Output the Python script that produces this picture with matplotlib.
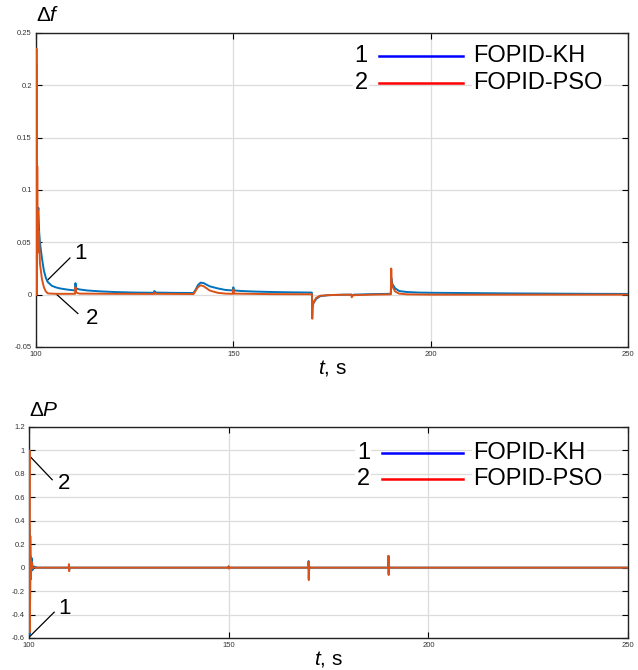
import matplotlib
matplotlib.use("Agg")
from matplotlib import pyplot as plt

plt.rcParams['font.family'] = ['Liberation Sans', 'DejaVu Sans']
plt.rcParams['mathtext.fontset'] = 'custom'
plt.rcParams['mathtext.rm'] = 'Liberation Sans'
plt.rcParams['mathtext.it'] = 'Liberation Sans:italic'

# --- delta f, FOPID-KH (curve 1)
t_f_kh = [100.0, 100.1, 100.2, 100.35, 100.6, 100.8, 101.0, 101.5, 102.0, 102.5, 103.0,
          104.0, 105.0, 106.0, 108.0, 109.9, 110.0, 110.15, 111.0, 113.0, 116.0, 120.0,
          125.0, 129.9, 130.0, 130.3, 135.0, 139.9, 140.5, 141.0, 141.7, 142.5, 144.0,
          146.0, 148.0, 149.9, 150.0, 150.2, 152.0, 155.0, 160.0, 165.0, 169.9, 170.0,
          170.3, 171.0, 172.0, 174.0, 178.0, 179.9, 180.0, 180.5, 185.0, 189.9, 190.0,
          190.3, 191.0, 192.0, 194.0, 197.0, 200.0, 210.0, 220.0, 230.0, 240.0, 250.0]
f_kh = [0.0, 0.22, 0.02, 0.07, 0.083, 0.06, 0.05, 0.035, 0.023, 0.016, 0.012,
        0.0085, 0.007, 0.006, 0.0048, 0.004, 0.011, 0.006, 0.005, 0.004, 0.0032, 0.0025,
        0.002, 0.0018, 0.0035, 0.002, 0.0017, 0.0016, 0.005, 0.009, 0.0115, 0.011, 0.008,
        0.006, 0.0045, 0.004, 0.007, 0.004, 0.0035, 0.003, 0.0025, 0.0022, 0.002, -0.012,
        -0.008, -0.004, -0.0015, -0.0005, 0.0, 0.0, -0.001, 0.0, 0.0005, 0.0008, 0.016,
        0.01, 0.006, 0.0035, 0.0025, 0.002, 0.0018, 0.0015, 0.0012, 0.001, 0.0008, 0.0007]

# --- delta f, FOPID-PSO (curve 2)
t_f_pso = [100.0, 100.12, 100.22, 100.32, 100.42, 100.5, 100.6, 100.75, 101.0, 101.5, 102.0,
           102.5, 103.0, 105.0, 109.9, 110.0, 110.2, 111.0, 120.0, 129.9, 130.0, 130.3,
           139.9, 140.5, 141.0, 141.7, 142.5, 144.0, 146.0, 148.0, 149.9, 150.0, 150.2,
           160.0, 169.9, 170.0, 170.15, 170.5, 171.0, 172.0, 175.0, 179.9, 180.0, 180.3,
           185.0, 189.9, 190.0, 190.1, 190.4, 191.0, 192.0, 194.0, 200.0, 250.0]
f_pso = [0.0, 0.235, 0.0, 0.123, 0.04, 0.08, 0.05, 0.06, 0.03, 0.015, 0.007,
         0.003, 0.0012, 0.0008, 0.0008, 0.007, 0.002, 0.001, 0.0008, 0.0007, 0.002, 0.0008,
         0.0006, 0.004, 0.007, 0.009, 0.008, 0.004, 0.0018, 0.001, 0.0008, 0.005, 0.001,
         0.0005, 0.0004, -0.023, -0.01, -0.006, -0.003, -0.001, -0.0003, 0.0, -0.0025, -0.0005,
         0.0, 0.0003, 0.025, 0.012, 0.007, 0.003, 0.001, 0.0003, 0.0, 0.0]

# --- delta P, FOPID-KH (curve 1)
t_p_kh = [100.0, 100.1, 100.2, 100.35, 100.5, 100.7, 100.9, 101.2, 102.0, 109.95, 110.0,
          110.05, 110.1, 149.95, 150.0, 150.05, 150.1, 169.95, 170.0, 170.05, 170.15, 170.3,
          189.95, 190.0, 190.05, 190.15, 190.3, 250.0]
p_kh = [0.0, 0.32, -0.57, 0.1, -0.05, 0.08, -0.02, 0.01, 0.0, 0.0, 0.02,
        -0.02, 0.0, 0.0, 0.01, -0.005, 0.0, 0.0, 0.056, -0.09, 0.01, 0.0,
        0.0, 0.1, -0.05, 0.01, 0.0, 0.0]

# --- delta P, FOPID-PSO (curve 2)
t_p_pso = [100.0, 100.12, 100.22, 100.32, 100.45, 100.6, 100.8, 102.0, 109.95, 110.0,
           110.05, 110.1, 149.95, 150.0, 150.05, 150.1, 169.95, 170.0, 170.05, 170.15, 170.3,
           189.95, 190.0, 190.05, 190.15, 190.3, 250.0]
p_pso = [0.0, 1.0, -0.55, 0.27, -0.1, 0.05, 0.0, 0.0, 0.0, 0.03,
         -0.03, 0.0, 0.0, 0.012, -0.008, 0.0, 0.0, 0.05, -0.106, 0.01, 0.0,
         0.0, 0.1, -0.063, 0.01, 0.0, 0.0]

kh_color = '#0072BD'
pso_color = '#D95319'

fig = plt.figure(figsize=(6.38, 6.70), dpi=100)
ax1 = fig.add_axes([0.0564, 0.4821, 0.928, 0.4687])
ax2 = fig.add_axes([0.0455, 0.0478, 0.939, 0.3149])


def style(ax, yticks):
    ax.set_xlim(100, 250)
    ax.set_xticks([100, 150, 200, 250])
    ax.set_yticks(yticks)
    ax.set_yticklabels(['%g' % v for v in yticks])
    ax.set_ylim(yticks[0], yticks[-1])
    ax.grid(True, color='#dcdcdc', linewidth=0.9)
    ax.set_axisbelow(True)
    ax.tick_params(direction='in', top=True, right=True, labelsize=5.5,
                   labelcolor='#333333', length=4, width=0.8, pad=3)
    for s in ax.spines.values():
        s.set_linewidth(1.0)
        s.set_color('#222222')


def legend(ax, xn, x0, x1, xt, y1, y2):
    # hand-made legend: number, line, name
    for num, y, c, name in [('1', y1, 'b', 'FOPID-KH'), ('2', y2, 'r', 'FOPID-PSO')]:
        ax.text(xn, y, num, transform=ax.transAxes, fontsize=17, ha='center', va='center',
                bbox=dict(facecolor='white', edgecolor='none', pad=1))
        ax.plot([x0, x1], [y, y], transform=ax.transAxes, color=c, lw=1.8)
        ax.text(xt, y, name, transform=ax.transAxes, fontsize=17, ha='left', va='center',
                bbox=dict(facecolor='white', edgecolor='none', pad=1))


# top: delta f
ax1.plot(t_f_kh, f_kh, color=kh_color, lw=1.4, zorder=3)
ax1.plot(t_f_pso, f_pso, color=pso_color, lw=1.4, zorder=3)
style(ax1, [-0.05, 0, 0.05, 0.1, 0.15, 0.2, 0.25])
legend(ax1, 0.549, 0.579, 0.721, 0.738, 0.927, 0.841)
ax1.plot([102.8, 108.6], [0.0134, 0.035], color='k', lw=0.9)
ax1.text(111.2, 0.039, '1', fontsize=16, ha='center', va='center')
ax1.plot([105.3, 110.6], [0.0, -0.018], color='k', lw=0.9)
ax1.text(114.2, -0.023, '2', fontsize=16, ha='center', va='center')
ax1.text(0.0, 1.025, r'$\Delta f$', transform=ax1.transAxes, fontsize=15, ha='left', va='bottom')
ax1.set_xlabel(r'$t$, s', fontsize=15, labelpad=0)

# bottom: delta P
ax2.plot(t_p_kh, p_kh, color=kh_color, lw=1.4, zorder=3)
ax2.plot(t_p_pso, p_pso, color=pso_color, lw=1.4, zorder=3)
style(ax2, [-0.6, -0.4, -0.2, 0, 0.2, 0.4, 0.6, 0.8, 1.0, 1.2])
legend(ax2, 0.558, 0.589, 0.724, 0.741, 0.878, 0.754)
ax2.plot([100.5, 105.8], [0.94, 0.75], color='k', lw=0.9)
ax2.text(108.8, 0.72, '2', fontsize=16, ha='center', va='center')
ax2.plot([100.25, 106.3], [-0.585, -0.38], color='k', lw=0.9)
ax2.text(108.8, -0.35, '1', fontsize=16, ha='center', va='center')
ax2.text(0.0, 1.035, r'$\Delta P$', transform=ax2.transAxes, fontsize=15, ha='left', va='bottom')
ax2.set_xlabel(r'$t$, s', fontsize=15, labelpad=0)

plt.savefig('out.png', dpi=100)
